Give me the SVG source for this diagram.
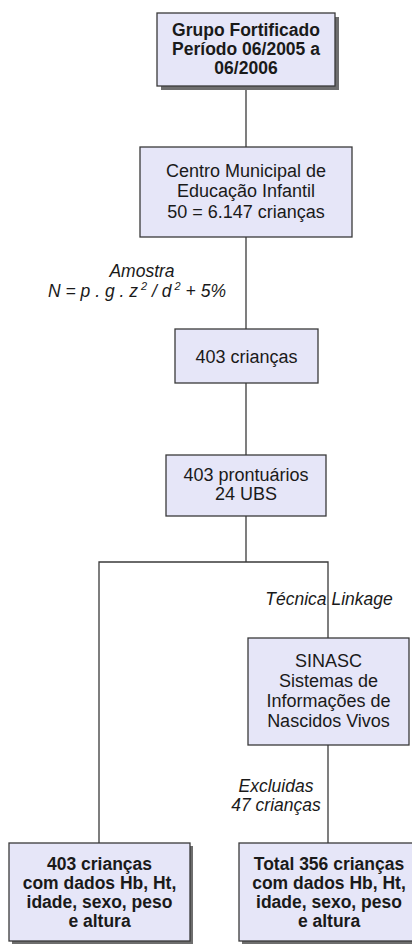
<svg xmlns="http://www.w3.org/2000/svg" width="412" height="944" viewBox="0 0 412 944">
<style>
.box{fill:#e6e6f8;stroke:#3a3a3a;stroke-width:1.3}
.sh{fill:#6e6e6e}
.t{font-family:"Liberation Sans",Arial,sans-serif;font-size:18px;fill:#1a1a1a;text-anchor:middle}
.b{font-weight:bold;font-size:17.5px}
.i{font-style:italic;font-size:17.5px}
.ln{stroke:#3a3a3a;stroke-width:1.3;fill:none}
</style>
<rect width="412" height="944" fill="#ffffff"/>
<g id="connectors">
<line class="ln" x1="246" y1="86" x2="246" y2="147"/>
<line class="ln" x1="246" y1="237" x2="246" y2="329"/>
<line class="ln" x1="246" y1="383" x2="246" y2="455"/>
<polyline class="ln" points="246,516 246,562"/>
<polyline class="ln" points="99,843 99,562 328,562 328,638"/>
<line class="ln" x1="328" y1="745" x2="328" y2="843"/>
<text class="t i" x="142" y="277">Amostra</text>
<text class="t i" x="137" y="297">N = p . g . z<tspan font-size="11" dy="-7"> 2</tspan><tspan dy="7"> / d</tspan><tspan font-size="11" dy="-7"> 2</tspan><tspan dy="7"> + 5%</tspan></text>
<text class="t i" x="329" y="605">Técnica Linkage</text>
<text class="t i" x="276" y="792">Excluidas</text>
<text class="t i" x="276" y="811">47 crianças</text>
</g>
<g id="n1">
<rect class="sh" x="161" y="17" width="178" height="73"/>
<rect class="box" x="157" y="13" width="178" height="73"/>
<text class="t b" x="246" y="36">Grupo Fortificado</text>
<text class="t b" x="246" y="55">Período 06/2005 a</text>
<text class="t b" x="246" y="74">06/2006</text>
</g>
<g id="n2">
<rect class="box" x="140" y="147" width="212" height="90"/>
<text class="t" x="246" y="177">Centro Municipal de</text>
<text class="t" x="246" y="197">Educação Infantil</text>
<text class="t" x="246" y="218">50 = 6.147 crianças</text>
</g>
<g id="n3">
<rect class="box" x="175" y="329" width="143" height="54"/>
<text class="t" x="246.5" y="363">403 crianças</text>
</g>
<g id="n4">
<rect class="box" x="166" y="455" width="160" height="61"/>
<text class="t" x="246" y="481">403 prontuários</text>
<text class="t" x="246" y="500">24 UBS</text>
</g>
<g id="n5">
<rect class="box" x="248" y="638" width="161" height="107"/>
<text class="t" x="328.5" y="667">SINASC</text>
<text class="t" x="328.5" y="687">Sistemas de</text>
<text class="t" x="328.5" y="707">Informações de</text>
<text class="t" x="328.5" y="727">Nascidos Vivos</text>
</g>
<g id="n6">
<rect class="sh" x="12" y="846" width="181" height="98"/>
<rect class="box" x="9" y="843" width="181" height="98"/>
<text class="t b" x="99.5" y="870">403 crianças</text>
<text class="t b" x="99.5" y="889">com dados Hb, Ht,</text>
<text class="t b" x="99.5" y="908">idade, sexo, peso</text>
<text class="t b" x="99.5" y="927">e altura</text>
</g>
<g id="n7">
<rect class="sh" x="242" y="846" width="181" height="98"/>
<rect class="box" x="239" y="843" width="181" height="98"/>
<text class="t b" x="329" y="870">Total 356 crianças</text>
<text class="t b" x="329" y="889">com dados Hb, Ht,</text>
<text class="t b" x="329" y="908">idade, sexo, peso</text>
<text class="t b" x="329" y="927">e altura</text>
</g>
</svg>
